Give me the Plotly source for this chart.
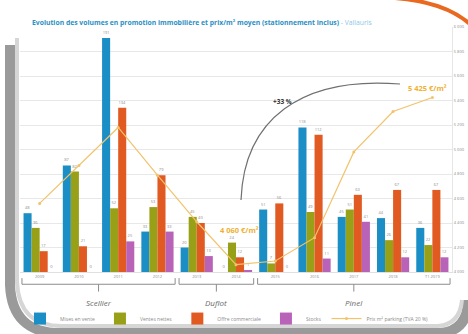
import plotly.graph_objects as go

# ---------------- data ----------------
years = ["2009", "2010", "2011", "2012", "2013", "2014", "2015", "2016", "2017", "2018", "T1 2019"]
mises_en_vente = [48, 87, 191, 33, 20, 0, 51, 118, 45, 44, 36]
ventes_nettes = [36, 82, 52, 53, 45, 24, 7, 49, 51, 26, 22]
offre_commerciale = [17, 21, 134, 79, 40, 12, 56, 112, 63, 67, 67]
stocks = [0, 0, 25, 33, 13, 1, 0, 11, 41, 12, 12]
prix_m2 = [4560, 4870, 5180, 4790, 4410, 4060, 4090, 4280, 4980, 5310, 5425]

dispositifs = ["Scellier", "Duflot", "Pinel"]
dispositif_span = [(0, 3), (4, 5), (6, 10)]

series_names = ["Mises en vente", "Ventes nettes", "Offre commerciale", "Stocks"]
series_vals = [mises_en_vente, ventes_nettes, offre_commerciale, stocks]
series_colors = ["#1b8ec6", "#98a017", "#e05a22", "#b863b8"]
line_name = "Prix m² parking (TVA 20 %)"
line_color = "#f2c36b"

W, H = 468, 334
L, R, T, B = 20, 452, 27, 272  # plot area in px


def px(x):
    return (x - L) / (R - L)


def py(y):
    return (B - y) / (B - T)


fig = go.Figure()
for name, vals, col in zip(series_names, series_vals, series_colors):
    fig.add_trace(go.Bar(
        x=years, y=vals, name=name, marker_color=col, marker_line_width=0,
        text=[str(v) for v in vals], textposition="outside",
        textfont=dict(size=4, color="#8a8a8a"), cliponaxis=False,
    ))

fig.add_trace(go.Scatter(
    x=years, y=prix_m2, name=line_name, yaxis="y2",
    mode="lines+markers", line=dict(color=line_color, width=1.2),
    marker=dict(size=3, color=line_color),
))

shapes = []
annotations = []

# group brackets under the axis
yb, yt, yc = -0.05, -0.025, -0.08
for label, (a, b) in zip(dispositifs, dispositif_span):
    x0, x1 = a - 0.45, b + 0.45
    xm = (a + b) / 2
    for sx0, sy0, sx1, sy1 in [(x0, yt, x0, yb), (x0, yb, x1, yb), (x1, yb, x1, yt), (xm, yb, xm, yc)]:
        shapes.append(dict(type="line", xref="x", yref="paper", x0=sx0, y0=sy0, x1=sx1, y1=sy1,
                           line=dict(color="#8c8c8c", width=1)))
    annotations.append(dict(x=xm, y=-0.093, xref="x", yref="paper", yanchor="top",
                            text=f"<i>{label}</i>",
                            showarrow=False, font=dict(size=8, color="#6a6a6a", family="Open Sans")))

# price annotations (category index positions)
i_min = prix_m2.index(min(prix_m2[:7]))
i_last = len(years) - 1
annotations.append(dict(x=i_min, y=prix_m2[i_min], xref="x", yref="y2", yshift=35, xshift=3,
                        text="<b>4 060 €/m²</b>", showarrow=False,
                        font=dict(size=7.5, color="#f0b030", family="Open Sans")))
annotations.append(dict(x=i_last, y=prix_m2[i_last], xref="x", yref="y2", yshift=9, xshift=-5,
                        text="<b>5 425 €/m²</b>", showarrow=False,
                        font=dict(size=7.5, color="#f0b030", family="Open Sans")))
annotations.append(dict(x=px(282), y=py(95), xref="paper", yref="paper",
                        text="<b>+33 %</b>", showarrow=False,
                        font=dict(size=6.5, color="#333333", family="Open Sans")))

# arc of the +33 %
shapes.append(dict(type="path", xref="paper", yref="paper",
                   path=f"M {px(241)},{py(200)} C {px(244)},{py(120)} {px(300)},{py(76)} {px(400)},{py(84)}",
                   line=dict(color="#707070", width=1.2)))

# title
annotations.append(dict(x=px(30), y=py(16), xref="paper", yref="paper", xanchor="left",
                        text="<b>Evolution des volumes en promotion immobilière et prix/m² moyen (stationnement inclus)</b>"
                             "<span style='color:#8fc6e6'> - Vallauris</span>",
                        showarrow=False, font=dict(size=6.8, color="#2a8fc4", family="Open Sans")))

# photo-card decoration
shapes.append(dict(type="path", xref="paper", yref="paper", layer="above",
                   path=f"M {px(10)},{py(45)} L {px(10)},{py(285)} Q {px(12)},{py(333)} {px(60)},{py(333)}"
                        f" L {px(440)},{py(333)} Q {px(468)},{py(331)} {px(468)},{py(300)}",
                   line=dict(color="#9a9a9a", width=10)))
shapes.append(dict(type="path", xref="paper", yref="paper", layer="above",
                   path=f"M {px(17)},{py(38)} L {px(17)},{py(282)} Q {px(19)},{py(326)} {px(62)},{py(326)}"
                        f" L {px(438)},{py(326)} Q {px(460)},{py(324)} {px(462)},{py(300)}",
                   line=dict(color="#d6d6d6", width=4)))
shapes.append(dict(type="path", xref="paper", yref="paper", layer="above",
                   path=f"M {px(395)},{py(-2)} Q {px(445)},{py(2)} {px(470)},{py(24)}",
                   line=dict(color="#e8691f", width=4)))

fig.update_layout(
    width=W, height=H,
    margin=dict(l=L, r=W - R, t=T, b=H - B, autoexpand=False),
    paper_bgcolor="white", plot_bgcolor="white",
    barmode="group", bargap=0.18, bargroupgap=0,
    separators=", ",
    font=dict(family="Open Sans", color="#8a8a8a"),
    xaxis=dict(type="category", range=[-0.5, len(years) - 0.5], showgrid=False,
               tickfont=dict(size=4, color="#8a8a8a"), ticks="",
               showline=True, linecolor="#e0e0e0", linewidth=1),
    yaxis=dict(range=[0, 200], dtick=20, showticklabels=False, gridcolor="#e8e8e8",
               gridwidth=1, zeroline=False),
    yaxis2=dict(range=[4000, 6000], dtick=200, overlaying="y", side="right",
                showgrid=False, tickformat=",d", tickfont=dict(size=4, color="#8a8a8a"),
                zeroline=False, showline=True, linecolor="#e6e6e6"),
    legend=dict(orientation="h", x=0.0, y=-0.19, xanchor="left", yanchor="middle",
                font=dict(size=5, color="#8a8a8a"), itemwidth=30,
                bgcolor="rgba(0,0,0,0)"),
    showlegend=True,
    shapes=shapes,
    annotations=annotations,
)

fig.write_html("out.html")
